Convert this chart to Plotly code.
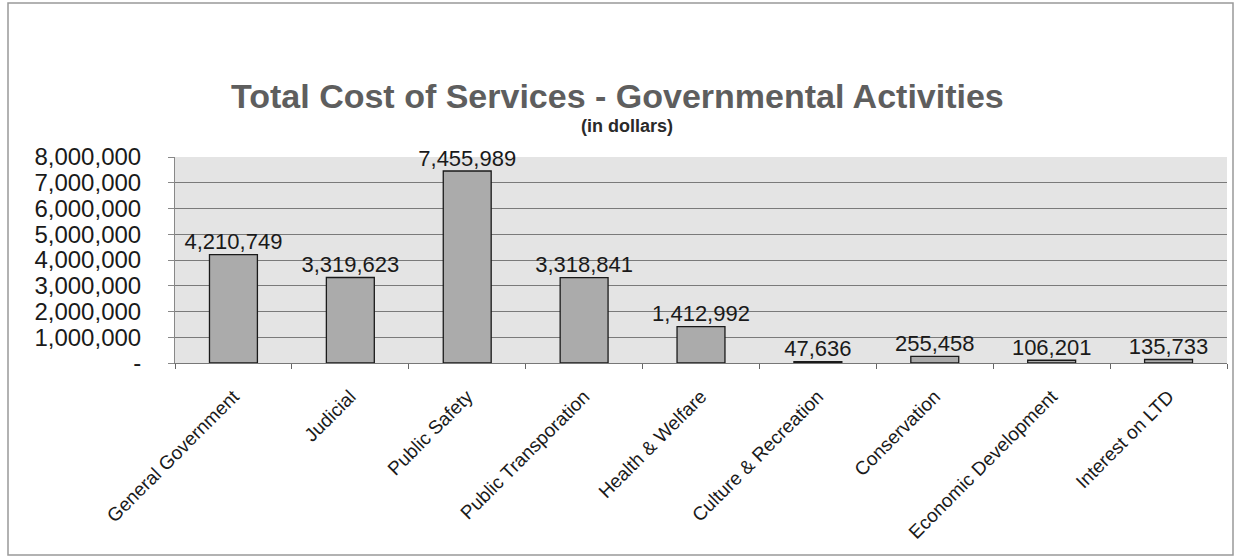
import plotly.graph_objects as go

categories = ["General Government", "Judicial", "Public Safety", "Public Transporation",
              "Health & Welfare", "Culture & Recreation", "Conservation",
              "Economic Development", "Interest on LTD"]
values = [4210749, 3319623, 7455989, 3318841, 1412992, 47636, 255458, 106201, 135733]
tick_vals = [0, 1000000, 2000000, 3000000, 4000000, 5000000, 6000000, 7000000, 8000000]
tick_text = ["-", "1,000,000", "2,000,000", "3,000,000", "4,000,000", "5,000,000",
             "6,000,000", "7,000,000", "8,000,000"]
value_labels = [f"{v:,}" for v in values]

FONT = "Liberation Sans, Arial, sans-serif"

fig = go.Figure()
fig.add_trace(go.Bar(
    x=categories, y=values,
    marker=dict(color="#ababab", line=dict(color="#1a1a1a", width=1.3)),
    width=0.41, hoverinfo="skip",
))
fig.add_trace(go.Scatter(
    x=categories, y=values, mode="text", text=value_labels,
    textposition="top center", cliponaxis=False,
    textfont=dict(family=FONT, size=22, color="#1a1a1a"),
))

PH = 206  # plot height in px
fig.update_layout(
    width=1237, height=559,
    margin=dict(l=175, r=10, t=157, b=196),
    paper_bgcolor="white", plot_bgcolor="#e4e4e4",
    showlegend=False,
    font=dict(family=FONT, color="#1a1a1a"),
)
fig.add_annotation(text="<b>Total Cost of Services - Governmental Activities</b>",
                   xref="paper", yref="paper", x=(617 - 175) / 1052, y=1.0 + (157 - 96) / PH,
                   showarrow=False, font=dict(size=34, color="#5e5e5e", family=FONT),
                   xanchor="center", yanchor="middle")
fig.add_annotation(text="<b>(in dollars)</b>",
                   xref="paper", yref="paper", x=(627 - 175) / 1052, y=1.0 + (157 - 126) / PH,
                   showarrow=False, font=dict(size=18, color="#2a2a2a", family=FONT),
                   xanchor="center", yanchor="middle")

fig.update_yaxes(range=[0, 8000000], tickvals=tick_vals, ticktext=tick_text,
                 tickfont=dict(size=24, family=FONT, color="#1a1a1a"),
                 gridcolor="#7a7a7a", gridwidth=1, showline=True, linecolor="#888888",
                 ticks="outside", ticklen=6, tickcolor="#888888",
                 ticklabelstandoff=22, zeroline=False)
fig.update_xaxes(tickangle=-45, tickfont=dict(size=19, family=FONT, color="#1a1a1a"),
                 showline=True, linecolor="#777777", ticks="outside", ticklen=5,
                 tickcolor="#666666", tickson="boundaries", ticklabelstandoff=14)

fig.add_shape(type="rect", xref="paper", yref="paper",
              x0=-(175 - 8) / 1052, x1=1 + 6 / 1052, y0=-(196 - 4) / PH, y1=1 + (157 - 3) / PH,
              line=dict(color="#999999", width=1.5), fillcolor="rgba(0,0,0,0)", layer="below")

fig.write_html("out.html")
